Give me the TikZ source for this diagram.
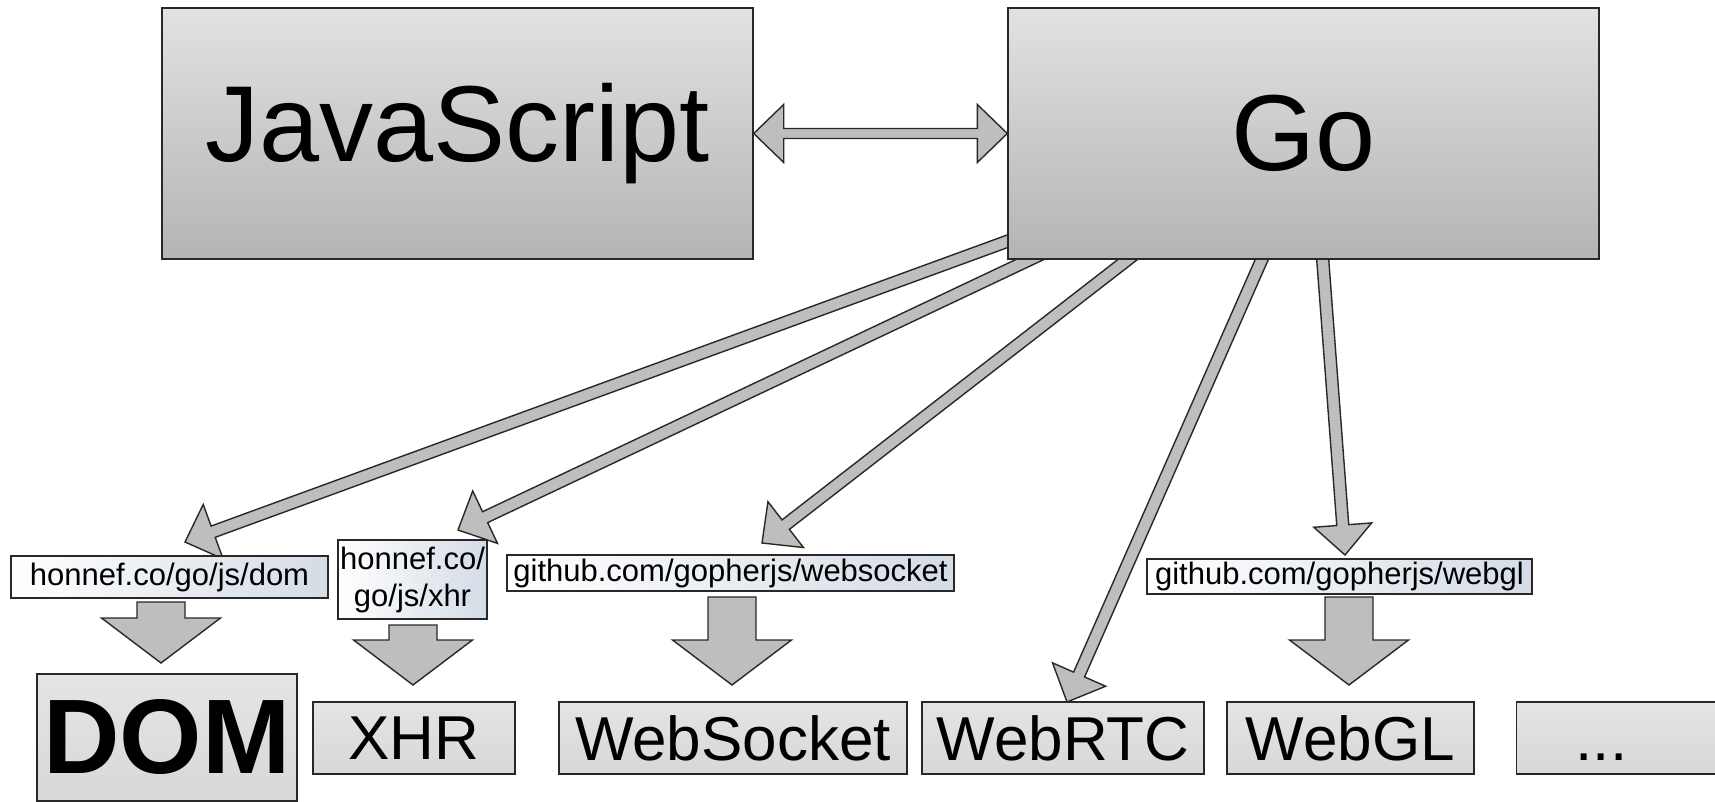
\documentclass[tikz,border=0pt]{standalone}
\usepackage{fontspec}
\setmainfont{Liberation Sans}
\usepackage{xcolor}
\usetikzlibrary{calc}
\definecolor{boxtop}{RGB}{226,226,226}
\definecolor{boxbottom}{RGB}{180,180,180}
\definecolor{tiletop}{RGB}{228,228,228}
\definecolor{tilebottom}{RGB}{216,216,216}
\definecolor{tagblue}{RGB}{212,220,230}
\definecolor{arrowgray}{RGB}{190,190,190}
\definecolor{edgegray}{RGB}{40,40,40}
\pgfdeclarelayer{bg}
\pgfsetlayers{bg,main}

% fat outlined arrow: half shaft, half head, head length, from, to
\newcommand\fatarrow[5]{%
  \coordinate (fa-h) at ($(#5)!#3!(#4)$);
  \draw[arrowbody] ($(#4)!#1!90:(#5)$) -- ($(fa-h)!#1!90:(#5)$) -- ($(fa-h)!#2!90:(#5)$)
    -- (#5) -- ($(fa-h)!#2!-90:(#5)$) -- ($(fa-h)!#1!-90:(#5)$) -- ($(#4)!#1!-90:(#5)$) -- cycle;}
% same with a head at both ends
\newcommand\fatdouble[5]{%
  \coordinate (fa-a) at ($(#4)!#3!(#5)$);
  \coordinate (fa-b) at ($(#5)!#3!(#4)$);
  \draw[arrowbody] (#4) -- ($(fa-a)!#2!90:(#5)$) -- ($(fa-a)!#1!90:(#5)$) -- ($(fa-b)!#1!90:(#5)$)
    -- ($(fa-b)!#2!90:(#5)$) -- (#5) -- ($(fa-b)!#2!-90:(#5)$) -- ($(fa-b)!#1!-90:(#5)$)
    -- ($(fa-a)!#1!-90:(#5)$) -- ($(fa-a)!#2!-90:(#5)$) -- cycle;}

\begin{document}
\begin{tikzpicture}[x=0.5pt, y=-0.5pt,
    bigbox/.style={draw=edgegray, line width=0.7pt, top color=boxtop, bottom color=boxbottom,
      inner sep=0pt, minimum width=295.5pt, minimum height=125.5pt, font=\fontsize{54}{60}\selectfont},
    tile/.style={draw=edgegray, line width=0.7pt, top color=tiletop, bottom color=tilebottom,
      inner sep=0pt, minimum height=36pt, font=\fontsize{31}{36}\selectfont},
    tag/.style={draw=edgegray, line width=0.6pt, left color=white, right color=tagblue,
      inner sep=0pt, font=\fontsize{15.5}{18.5}\selectfont},
    arrowbody/.style={draw=edgegray, line width=0.7pt, fill=arrowgray, line join=miter}]
    \path[use as bounding box, clip] (0,0) rectangle (1715,802);

    % Languages
    \node[bigbox] (js) at (457.5,133.5) {JavaScript};
    \node[bigbox] (go) at (1303.5,133.5) {Go};

    % Package tags
    \node[tag, minimum width=158.5pt, minimum height=21pt] (domtag) at (169.5,577) {honnef.co/go/js/dom};
    \node[tag, minimum width=74.5pt, minimum height=39.5pt, align=center] (xhrtag) at (412.5,579.5) {honnef.co/\\go/js/xhr};
    \node[tag, minimum width=223.5pt, minimum height=18pt] (wstag) at (730.5,573) {github.com/gopherjs/websocket};
    \node[tag, minimum width=192.5pt, minimum height=17.5pt] (gltag) at (1339.5,576.5) {github.com/gopherjs/webgl};

    % Browser APIs
    \node[tile, minimum width=130pt, minimum height=63.5pt, font=\fontsize{53}{60}\selectfont\bfseries] (dom) at (167,737.5) {DOM};
    \node[tile, minimum width=101pt] (xhr) at (414,738) {XHR};
    \node[tile, minimum width=174pt] (ws) at (733,738) {WebSocket};
    \node[tile, minimum width=141pt] (rtc) at (1063,738) {WebRTC};
    \node[tile, minimum width=123.5pt] (gl) at (1350.5,738) {WebGL};
    \node[tile, anchor=west, inner xsep=29.5pt, text width=48pt, align=left,
          text height=22.5pt, text depth=0pt] (more) at (1516,738) {...};

    % Arrow ends
    \coordinate (s1) at (1030,233);
    \coordinate (s2) at (1050,250);
    \coordinate (s3) at (1140,250);
    \coordinate (s4) at (1266,250);
    \coordinate (s5) at (1322,250);
    \coordinate (t1) at (185,542);
    \coordinate (t2) at (458,530);
    \coordinate (t3) at (762,543);
    \coordinate (t4) at (1067,702);
    \coordinate (t5) at (1345,555);
    \coordinate (d1) at (161,602);  \coordinate (e1) at (161,663);
    \coordinate (d2) at (413,625);  \coordinate (e2) at (413,685);
    \coordinate (d3) at (732,597);  \coordinate (e3) at (732,685);
    \coordinate (d4) at (1349,597); \coordinate (e4) at (1349,685);

    \begin{pgfonlayer}{bg}
    % Go reaches out to the packages
    \foreach \i in {1,...,5}
        \fatarrow{3pt}{14.5pt}{15pt}{s\i}{t\i};
    \end{pgfonlayer}

    % JavaScript <-> Go
    \fatdouble{2.5pt}{14.5pt}{15pt}{js.east}{go.west}

    % Packages wrap the APIs
    \foreach \i in {1,...,4}
        \fatarrow{12pt}{29.75pt}{22.5pt}{d\i}{e\i};
\end{tikzpicture}
\end{document}
